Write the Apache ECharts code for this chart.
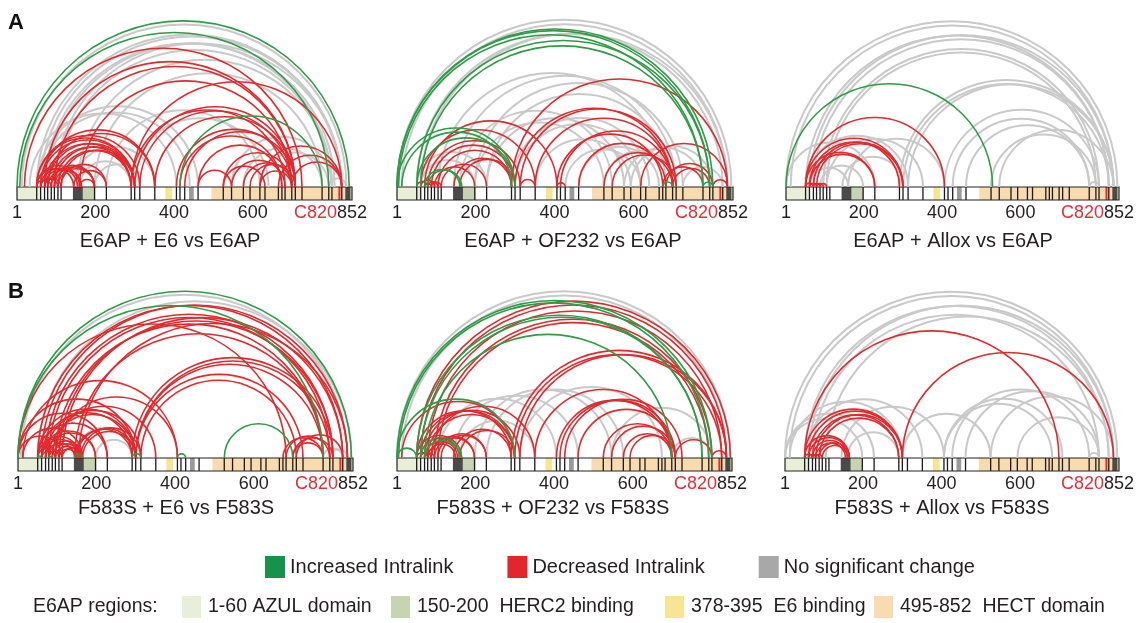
<!DOCTYPE html>
<html>
<head>
<meta charset="utf-8">
<script src="https://cdn.jsdelivr.net/npm/echarts@6/dist/echarts.min.js"></script>
<style>
    html, body { margin: 0; background: #fff; }
    #chart { width: 1137px; height: 623px; }
</style>
</head>
<body>
<div id="chart"></div>
<script>
    // residue axis + E6AP bar
    var residueTicks = [1, 200, 400, 600, 852];
    var catalyticSite = 820;
    var domainRanges = [[1, 60], [150, 200], [378, 395], [495, 852]];
    var darkBlocks = [[143, 168], [835, 848]];
    var grayBlocks = [[438, 450]];
    var lysineSites = [51, 61, 71, 79, 88, 96, 105, 113, 198, 228, 291, 300, 313, 351, 406, 415, 427,
        461, 525, 546, 576, 593, 618, 631, 665, 674, 682, 699, 708, 725, 776, 793, 801, 826];

    var panelTitles = ['E6AP + E6 vs E6AP', 'E6AP + OF232 vs E6AP', 'E6AP + Allox vs E6AP',
        'F583S + E6 vs F583S', 'F583S + OF232 vs F583S', 'F583S + Allox vs F583S'];
    var statusNames = ['Increased Intralink', 'Decreased Intralink', 'No significant change'];
    var regionLabels = ['1-60 AZUL domain', '150-200  HERC2 binding', '378-395  E6 binding', '495-852  HECT domain'];

    // intralinks [residue a, residue b]
    var p1Up = [[1, 845], [8, 793], [415, 776]];
    var p1Down = [[20, 725], [71, 708], [96, 708], [160, 699], [291, 826],
        [51, 300], [61, 300], [71, 291], [79, 300], [88, 291], [96, 300], [105, 291], [113, 300], [61, 351], [79, 351], [51, 313],
        [51, 145], [51, 160], [61, 155], [71, 165], [79, 165], [88, 198], [96, 198], [105, 198], [113, 228], [145, 228], [160, 198],
        [51, 88], [61, 105], [71, 113],
        [300, 708], [313, 699], [291, 682], [351, 708], [406, 699], [415, 674], [427, 708],
        [461, 674], [525, 699], [546, 682], [576, 699], [593, 708], [618, 699], [525, 631], [461, 546],
        [618, 826], [665, 826], [699, 826]];
    var p1Ns = [[13, 838], [51, 826], [61, 826], [71, 801], [79, 808], [96, 826], [105, 801], [155, 801], [198, 776],
        [51, 461], [61, 440], [33, 406], [145, 351], [198, 313], [160, 291],
        [546, 801], [618, 793], [576, 776], [793, 838], [228, 618], [291, 640]];

    var p2Up = [[1, 801], [1, 793], [5, 776], [51, 793], [61, 776], [1, 300], [13, 291], [51, 300], [71, 160], [79, 165],
        [674, 699], [776, 801]];
    var p2Down = [[291, 838], [300, 699], [313, 708], [351, 699], [406, 674], [415, 699], [461, 682], [525, 699], [546, 708],
        [618, 838], [682, 801], [699, 793], [674, 776], [801, 838],
        [61, 351], [79, 313], [88, 300], [105, 291], [71, 406], [145, 291], [160, 300],
        [51, 79], [61, 96], [71, 88], [79, 105], [88, 113], [313, 351], [406, 427], [96, 198], [113, 228]];
    var p2Ns = [[1, 848], [13, 838], [51, 826], [61, 838], [105, 682], [145, 708], [198, 725], [228, 699],
        [160, 546], [198, 525], [228, 576], [351, 593], [427, 618], [461, 665], [525, 708], [576, 776], [593, 801],
        [725, 826], [51, 228], [61, 198], [291, 640], [300, 618]];

    var p3Up = [[1, 529]];
    var p3Down = [[51, 406], [51, 300], [61, 291], [71, 300], [79, 300], [51, 228], [61, 228],
        [51, 71], [61, 79], [71, 88], [79, 96], [88, 105]];
    var p3Ns = [[1, 848], [13, 838], [51, 826], [61, 838], [71, 826], [96, 801], [105, 793],
        [1, 228], [51, 313], [105, 351], [145, 300], [88, 198], [291, 838], [300, 826], [313, 838],
        [406, 801], [427, 776], [461, 776], [525, 793], [776, 801], [546, 838], [160, 406], [61, 160]];

    var p4Up = [[1, 848], [1, 776], [525, 699], [291, 313], [406, 427], [79, 88], [145, 165], [51, 61]];
    var p4Down = [[51, 826], [61, 838], [71, 801], [79, 793], [96, 776], [105, 801], [113, 826], [145, 776], [155, 838], [1, 682],
        [300, 776], [291, 801], [300, 793], [300, 725], [313, 708],
        [682, 793], [699, 801], [708, 826], [674, 776], [699, 776],
        [1, 300], [51, 300], [61, 291], [71, 313], [79, 300], [88, 351], [96, 406], [13, 406],
        [1, 228], [51, 228], [61, 198], [71, 198], [13, 165], [51, 160], [61, 155], [71, 145], [79, 165], [88, 160],
        [96, 155], [105, 150], [113, 165], [145, 291], [150, 300], [160, 313], [165, 300],
        [1, 113], [51, 105], [61, 96], [79, 113]];
    var p4Ns = [[8, 838], [51, 848], [145, 300], [198, 291], [793, 838], [776, 826]];

    var p5Up = [[1, 801], [5, 793], [51, 776], [61, 776], [71, 699], [1, 300], [61, 165], [71, 160], [1, 51]];
    var p5Down = [[51, 848], [61, 838], [79, 826], [96, 801], [105, 793], [291, 838], [300, 826], [313, 838],
        [351, 699], [406, 699], [415, 708], [427, 725], [461, 708], [525, 699], [546, 708], [576, 699], [593, 708],
        [708, 801], [801, 838],
        [13, 300], [51, 291], [61, 300], [71, 313], [79, 300], [88, 351], [51, 165], [61, 160], [71, 155], [79, 150],
        [88, 198], [96, 198], [105, 228], [113, 228], [145, 291], [160, 300], [51, 79], [61, 88], [71, 96]];
    var p5Ns = [[1, 848], [13, 838], [145, 461], [198, 546], [228, 576], [313, 674], [699, 801], [546, 801],
        [105, 406], [160, 351]];

    var p6Up = [];
    var p6Down = [[51, 699], [300, 838], [51, 300], [61, 300], [71, 291], [79, 300], [88, 291],
        [51, 165], [61, 165], [71, 160], [79, 155], [88, 165], [96, 160], [51, 71], [61, 79], [71, 88], [79, 96]];
    var p6Ns = [[1, 848], [13, 838], [51, 826], [61, 838], [71, 801], [105, 826], [1, 228], [1, 198], [13, 300],
        [51, 351], [145, 406], [406, 708], [427, 776], [461, 801], [406, 682], [525, 838], [300, 525],
        [776, 801], [593, 801], [160, 291]];

    var panelArcs = [
        [p1Up, p1Down, p1Ns], [p2Up, p2Down, p2Ns], [p3Up, p3Down, p3Ns],
        [p4Up, p4Down, p4Ns], [p5Up, p5Down, p5Ns], [p6Up, p6Down, p6Ns]
    ];

    // layout: bar left, bar top, bar width, title centre x
    var panelBox = [
        [17, 187, 335, 170], [397, 187, 336, 573], [786, 187, 333, 953],
        [18, 458, 335, 176], [397, 458, 335, 553], [785, 458, 334, 942]
    ];
    var barH = 13;
    var fontFam = '"Liberation Sans", Arial, sans-serif';
    var txtColor = '#231f20';
    var arcColors = ['#2f9b47', '#e02a2e', '#c9c9c9'];
    var keyColors = ['#17924a', '#e3262c', '#a8a8a8'];
    var domainColors = ['#e9eed6', '#c7d3b1', '#f8e591', '#f8dcb0'];

    var grid = [], xAxis = [], yAxis = [], series = [], graphic = [];

    function rangeRect(api, a, b, fill) {
        var s = api.coord([a, 1]);
        var e = api.coord([b, 0]);
        return { type: 'rect', shape: { x: s[0], y: s[1], width: e[0] - s[0], height: e[1] - s[1] }, style: { fill: fill } };
    }

    for (var i = 0; i < 6; i++) {
        var box = panelBox[i];
        grid.push({ left: box[0], top: box[1], width: box[2], height: barH });
        xAxis.push({
            type: 'value', gridIndex: i, min: 1, max: 852,
            axisLine: { show: false }, axisTick: { show: false }, splitLine: { show: false },
            axisLabel: {
                customValues: residueTicks, margin: 4, fontSize: 18, color: txtColor, fontFamily: fontFam,
                hideOverlap: false
            }
        });
        yAxis.push({ type: 'value', gridIndex: i, min: 0, max: 1, show: false });

        // domain fills
        series.push({
            type: 'custom', xAxisIndex: i, yAxisIndex: i, silent: true, z: 1,
            data: domainRanges.map(function (d, k) { return [d[0], d[1], k]; }),
            renderItem: function (params, api) {
                return rangeRect(api, api.value(0), api.value(1), domainColors[api.value(2)]);
            }
        });
        // shaded blocks
        series.push({
            type: 'custom', xAxisIndex: i, yAxisIndex: i, silent: true, z: 2,
            data: darkBlocks.map(function (d) { return [d[0], d[1], 0]; })
                .concat(grayBlocks.map(function (d) { return [d[0], d[1], 1]; })),
            renderItem: function (params, api) {
                return rangeRect(api, api.value(0), api.value(1), api.value(2) ? '#9a9a9a' : '#4a4a4a');
            }
        });
        // crosslinked lysines
        series.push({
            type: 'custom', xAxisIndex: i, yAxisIndex: i, silent: true, z: 3,
            data: lysineSites.map(function (s) { return [s, 0]; }),
            renderItem: function (params, api) {
                var t = api.coord([api.value(0), 1]);
                var b = api.coord([api.value(0), 0]);
                return { type: 'line', shape: { x1: t[0], y1: t[1], x2: b[0], y2: b[1] }, style: { stroke: '#1a1a1a', lineWidth: 1.3 } };
            }
        });
        // frame, active cysteine
        series.push({
            type: 'custom', xAxisIndex: i, yAxisIndex: i, silent: true, z: 4,
            data: [[1, 852]],
            renderItem: function (params, api) {
                var s = api.coord([api.value(0), 1]);
                var e = api.coord([api.value(1), 0]);
                var c = api.coord([catalyticSite, 1]);
                return {
                    type: 'group', children: [
                        { type: 'line', shape: { x1: c[0], y1: s[1], x2: c[0], y2: e[1] }, style: { stroke: '#e02a2e', lineWidth: 2 } },
                        { type: 'rect', shape: { x: s[0], y: s[1], width: e[0] - s[0], height: e[1] - s[1] }, style: { fill: 'none', stroke: '#222', lineWidth: 1.2 } },
                        { type: 'text', x: e[0] - 15, y: e[1] + 13.5,
                          style: { text: 'C' + catalyticSite, align: 'right', verticalAlign: 'middle', fontSize: 18, fontFamily: fontFam, fill: '#e0303a' } }
                    ]
                };
            }
        });
        // arcs: no change first, then decreased, then increased
        [2, 1, 0].forEach(function (k) {
            series.push({
                type: 'custom', name: statusNames[k], xAxisIndex: i, yAxisIndex: i, silent: true,
                z: 5 + (2 - k), clip: false,
                itemStyle: { color: keyColors[k] },
                data: panelArcs[i][k],
                renderItem: function (params, api) {
                    var a = api.coord([api.value(0), 1]);
                    var b = api.coord([api.value(1), 1]);
                    return {
                        type: 'arc',
                        shape: { cx: (a[0] + b[0]) / 2, cy: a[1], r: Math.abs(b[0] - a[0]) / 2, startAngle: Math.PI, endAngle: 2 * Math.PI },
                        style: { stroke: arcColors[k], fill: 'none', lineWidth: k === 2 ? 2 : 1.6 }
                    };
                }
            });
        });

        graphic.push({
            type: 'text', x: box[3], y: box[1] + (i < 3 ? 54 : 50),
            style: { text: panelTitles[i], align: 'center', verticalAlign: 'middle', fontSize: 20, fontFamily: fontFam, fill: txtColor }
        });
    }

    graphic.push({ type: 'text', x: 8, y: 23, style: { text: 'A', verticalAlign: 'middle', fontSize: 22, fontWeight: 'bold', fontFamily: fontFam, fill: '#111' } });
    graphic.push({ type: 'text', x: 8, y: 292, style: { text: 'B', verticalAlign: 'middle', fontSize: 22, fontWeight: 'bold', fontFamily: fontFam, fill: '#111' } });

    // E6AP region key
    var regionKeyX = [182, 391, 665, 874];
    graphic.push({ type: 'text', x: 33, y: 607, style: { text: 'E6AP regions:', verticalAlign: 'middle', fontSize: 19.5, fontFamily: fontFam, fill: txtColor } });
    regionLabels.forEach(function (lab, k) {
        graphic.push({ type: 'rect', shape: { x: regionKeyX[k], y: 596, width: 19, height: 22 }, style: { fill: domainColors[k] } });
        graphic.push({ type: 'text', x: regionKeyX[k] + 26, y: 607, style: { text: lab, verticalAlign: 'middle', fontSize: 19.5, fontFamily: fontFam, fill: txtColor } });
    });

    var chart = echarts.init(document.getElementById('chart'));
    chart.setOption({
        animation: false,
        backgroundColor: '#fff',
        grid: grid,
        xAxis: xAxis,
        yAxis: yAxis,
        legend: {
            left: 260, top: 551, icon: 'rect', itemWidth: 20, itemHeight: 22, itemGap: 54,
            selectedMode: false,
            textStyle: { fontSize: 20, color: txtColor, fontFamily: fontFam },
            data: statusNames.map(function (n, k) { return { name: n, itemStyle: { color: keyColors[k] } }; })
        },
        graphic: graphic,
        series: series
    });
</script>
</body>
</html>
